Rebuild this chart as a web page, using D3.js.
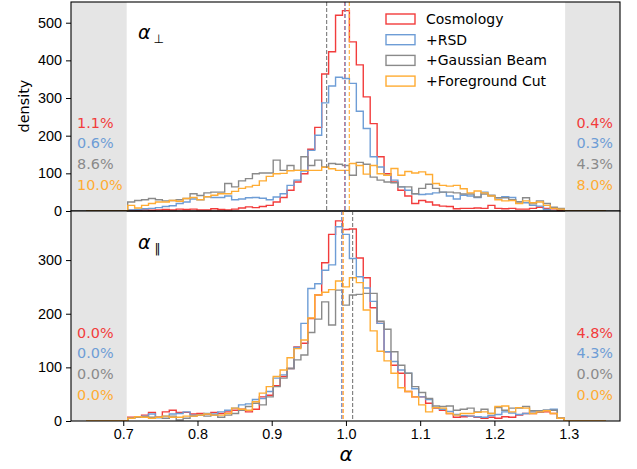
<!DOCTYPE html>
<html>
<head>
<meta charset="utf-8">
<script src="https://cdnjs.cloudflare.com/ajax/libs/d3/7.8.5/d3.min.js"></script>
<style>
body{margin:0;background:#fff;}
svg{display:block;font-family:"DejaVu Sans",sans-serif;}
</style>
</head>
<body>
<svg id="chart" width="637" height="469"></svg>
<script>
// ==================== DATA ====================
// histogram bins: 75 bins between 0.65 and 1.35
const binLo = 0.65, binHi = 1.35, nBins = 75;

const seriesNames  = ["Cosmology", "+RSD", "+Gaussian Beam", "+Foreground Cut"];
const seriesColors = ["#f23c3c", "#6e9dd6", "#8a8a8a", "#ffac33"];

// alpha_perp (top panel) densities per bin
const perpCosmology = [0,0,0,0,0,0,
  2,2,3,2,3,4,3,5,4,5,3,3,6,4,3,5,8,11,9,12,15,24,36,55,77,99,164,222,364,423,520,532,449,388,303,232,144,99,77,55,40,20,28,24,16,13,12,6,7,7,8,7,15,7,6,7,5,5,7,10,7,6,2,
  0,0,0,0,0,0];
const perpRSD = [0,0,0,0,0,0,
  3,4,6,7,9,12,14,20,24,32,30,38,36,36,40,30,32,35,36,34,30,37,46,68,82,106,161,201,287,332,355,352,339,265,219,144,117,95,82,64,55,46,44,45,48,50,40,32,42,40,36,50,40,35,38,36,25,22,15,13,4,7,5,
  0,0,0,0,0,0];
const perpBeam = [0,0,0,0,0,0,
  24,28,30,33,30,27,28,30,33,46,41,48,50,50,73,64,80,86,99,101,101,135,108,121,108,144,121,135,117,126,124,121,95,129,124,90,82,77,75,64,64,46,60,71,60,50,50,48,45,45,37,45,42,35,35,30,24,35,19,27,20,10,7,
  0,0,0,0,0,0];
const perpFgCut = [0,0,0,0,0,0,
  15,8,15,20,24,24,28,26,33,36,30,38,42,46,46,52,60,64,68,80,92,99,100,107,108,108,108,108,116,112,108,108,126,121,98,121,99,95,113,95,105,101,104,97,73,68,66,68,59,48,53,48,40,30,27,28,20,27,22,24,15,7,5,
  0,0,0,0,0,0];

// alpha_par (bottom panel) densities per bin
const paraCosmology = [0,0,0,0,0,0,
  7,7,11,16,7,17,20,16,16,13,14,13,16,14,17,20,22,17,22,45,48,66,83,98,138,145,191,235,295,348,373,357,358,304,267,211,182,129,104,89,55,45,45,33,24,20,14,7,8,9,7,5,7,5,8,7,11,14,14,16,17,14,5,
  0,0,0,0,0,0];
const paraRSD = [0,0,0,0,0,0,
  5,7,9,13,6,9,13,14,17,11,11,14,13,17,20,24,30,32,40,42,55,80,86,98,137,182,247,256,281,291,362,348,303,269,248,223,182,129,111,95,89,60,45,40,25,22,18,12,10,9,8,7,10,12,17,15,12,14,17,17,20,22,5,
  0,0,0,0,0,0];
const paraBeam = [0,0,0,0,0,0,
  5,7,8,7,7,5,9,2,5,9,11,9,11,7,11,14,20,27,33,30,45,64,80,98,114,123,165,190,222,179,244,216,235,236,238,238,186,171,129,104,89,64,53,42,28,27,28,20,22,24,17,22,14,25,20,24,24,27,19,19,20,20,5,
  0,0,0,0,0,0];
const paraFgCut = [0,0,0,0,0,0,
  5,8,7,5,7,9,7,7,9,9,11,13,11,11,14,24,22,20,36,52,64,83,95,118,135,151,192,235,240,245,261,250,267,258,207,168,130,112,89,62,55,45,30,17,25,24,14,11,14,14,16,17,14,27,28,17,25,24,14,17,19,14,5,
  0,0,0,0,0,0];

// mean of each distribution (dashed lines)
const perpMeans = [0.9985, 0.999, 0.974, 1.0045];
const paraMeans = [0.9945, 0.9942, 1.009, 0.9964];

// fraction of samples outside the prior window
const perpOutLeft  = ["1.1%", "0.6%", "8.6%", "10.0%"];
const perpOutRight = ["0.4%", "0.3%", "4.3%", "8.0%"];
const paraOutLeft  = ["0.0%", "0.0%", "0.0%", "0.0%"];
const paraOutRight = ["4.8%", "4.3%", "0.0%", "0.0%"];

// shaded regions outside prior window
const shadeLeft = 0.7046, shadeRight = 1.2953;

const xTicks = [0.7, 0.8, 0.9, 1.0, 1.1, 1.2, 1.3];
const perpYTicks = [0, 100, 200, 300, 400, 500];
const paraYTicks = [0, 100, 200, 300];

// ==================== LAYOUT ====================
const svg = d3.select("#chart");
const L = 71, R = 620;
const FS = 14.4;
const x = d3.scaleLinear().domain([0.6296, 1.3692]).range([L, R]);
const binW = (binHi - binLo) / nBins;

const panels = [
  { top: 2, bottom: 211, ymax: 555, ticks: perpYTicks, data: [perpCosmology, perpRSD, perpBeam, perpFgCut],
    means: perpMeans, outL: perpOutLeft, outR: perpOutRight, sub: "\u22A5", labelY: [122.7,143.3,164,185], showX: false, legend: true },
  { top: 211, bottom: 421, ymax: 391.5, ticks: paraYTicks, data: [paraCosmology, paraRSD, paraBeam, paraFgCut],
    means: paraMeans, outL: paraOutLeft, outR: paraOutRight, sub: "\u2016", labelY: [332.7,353.3,374,394.7], showX: true, legend: false }
];

function stepPoints(vals){
  const pts = [[binLo, 0]];
  vals.forEach((v, k) => {
    pts.push([binLo + k*binW, v]);
    pts.push([binLo + (k+1)*binW, v]);
  });
  pts.push([binHi, 0]);
  return pts;
}

panels.forEach((p, pi) => {
  const y = d3.scaleLinear().domain([0, p.ymax]).range([p.bottom, p.top]);
  const g = svg.append("g");

  // clip
  const cid = "clip" + pi;
  svg.append("clipPath").attr("id", cid)
    .append("rect").attr("x", L).attr("y", p.top).attr("width", R - L).attr("height", p.bottom - p.top);

  // shaded prior bounds
  g.append("rect").attr("x", L).attr("y", p.top)
    .attr("width", x(shadeLeft) - L).attr("height", p.bottom - p.top).attr("fill", "#e5e5e5");
  g.append("rect").attr("x", x(shadeRight)).attr("y", p.top)
    .attr("width", R - x(shadeRight)).attr("height", p.bottom - p.top).attr("fill", "#e5e5e5");

  // step histograms
  const line = d3.line().x(d => x(d[0])).y(d => y(d[1]));
  const hg = g.append("g").attr("clip-path", `url(#${cid})`);
  p.data.forEach((vals, i) => {
    hg.append("path")
      .attr("d", line(stepPoints(vals)))
      .attr("fill", "none")
      .attr("stroke", seriesColors[i])
      .attr("stroke-width", 1.4)
      .attr("stroke-linejoin", "miter");
  });

  // mean lines
  p.means.forEach((m, i) => {
    hg.append("line")
      .attr("x1", x(m)).attr("x2", x(m))
      .attr("y1", p.top).attr("y2", p.bottom)
      .attr("stroke", i === 2 ? "#7a7a7a" : seriesColors[i])
      .attr("stroke-width", 1.1)
      .attr("stroke-dasharray", "4,2");
  });

  // y axis
  const ya = g.append("g").attr("transform", `translate(${L},0)`)
    .call(d3.axisLeft(y).tickValues(p.ticks).tickSize(5).tickPadding(4).tickFormat(d3.format("d")));
  ya.select(".domain").remove();
  ya.selectAll("text").style("font-size", FS + "px").attr("fill", "#000");

  if (p.showX) {
    const xa = g.append("g").attr("transform", `translate(0,${p.bottom})`)
      .call(d3.axisBottom(x).tickValues(xTicks).tickSize(5).tickPadding(3).tickFormat(d3.format(".1f")));
    xa.select(".domain").remove();
    xa.selectAll("text").style("font-size", FS + "px").attr("fill", "#000");
  }

  // frame
  g.append("rect").attr("x", L).attr("y", p.top)
    .attr("width", R - L).attr("height", p.bottom - p.top)
    .attr("fill", "none").attr("stroke", "#000").attr("stroke-width", 1.1);

  // panel label
  const lab = g.append("text").attr("x", 138).attr("y", p.top + (pi === 0 ? 37 : 38))
    .style("font-size", "19px").attr("fill", "#000");
  lab.append("tspan").style("font-style", "italic").text("\u03B1");
  lab.append("tspan").attr("dx", pi === 0 ? 3 : 4).attr("dy", 4)
    .style("font-size", "12px").style("font-family", "'DejaVu Sans'").attr("fill", "#000").text(p.sub);

  // outlier fractions
  p.outL.forEach((t, i) => {
    g.append("text").attr("x", 77).attr("y", p.labelY[i] + 5)
      .style("font-size", FS + "px").attr("fill", seriesColors[i]).text(t);
  });
  p.outR.forEach((t, i) => {
    g.append("text").attr("x", 613).attr("y", p.labelY[i] + 5).attr("text-anchor", "end")
      .style("font-size", FS + "px").attr("fill", seriesColors[i]).text(t);
  });

  // legend
  if (p.legend) {
    seriesNames.forEach((n, i) => {
      const cy = 19 + i * 20.7;
      g.append("rect").attr("x", 386).attr("y", cy - 5).attr("width", 29).attr("height", 10)
        .attr("fill", "none").attr("stroke", seriesColors[i]).attr("stroke-width", 1.4);
      g.append("text").attr("x", 426).attr("y", cy + 5)
        .style("font-size", "14px").text(n);
    });
  }
});

// axis labels
svg.append("text").attr("transform", "translate(29,106) rotate(-90)")
  .attr("text-anchor", "middle").style("font-size", FS + "px").text("density");
svg.append("text").attr("x", 346).attr("y", 461).attr("text-anchor", "middle")
  .style("font-size", "20px").style("font-style", "italic").text("\u03B1");
</script>
</body>
</html>
